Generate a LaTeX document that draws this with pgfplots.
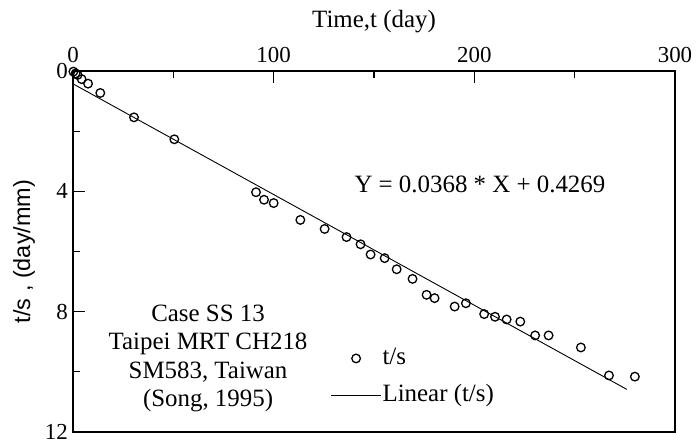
\documentclass[border=0pt]{standalone}
\usepackage{fontspec}
\setmainfont{Liberation Serif}
\newfontfamily\sansf{Liberation Sans}
\usepackage{pgfplots}
\pgfplotsset{compat=1.18}
\pgfplotsset{
 markleg/.style={legend image code/.code={\draw[mark repeat=2,mark phase=2,##1] plot coordinates {(0bp,0bp) (25bp,0bp) (50bp,0bp)};}},
 lineleg/.style={legend image code/.code={\draw[##1] (0bp,0bp) -- (50bp,0bp);}},
}
\begin{document}
\begin{tikzpicture}
\begin{axis}[
 at={(73bp,12bp)}, anchor=south west,
 scale only axis, width=602bp, height=361bp,
 xmin=0, xmax=300, ymin=0, ymax=12, y dir=reverse,
 clip=false,
 xtick={0,100,200,300}, ytick={0,4,8,12},
 minor xtick={50,150,250}, minor ytick={2,6,10},
 xtick pos=upper, xticklabel pos=upper, ytick pos=left, yticklabel pos=left,
 tick align=inside, major tick length=12bp, minor tick length=7bp,
 axis line style={line width=1.3bp},
 every tick/.style={black, line width=1.2bp},
 /pgf/number format/assume math mode=true,
 tick label style={font=\fontsize{23}{23}\selectfont},
 xticklabel style={inner sep=0pt, anchor=base, yshift=9bp},
 yticklabel style={inner sep=0pt, anchor=east, xshift=-5bp},
 xlabel={Time,t (day)},
 xlabel style={font=\fontsize{25}{25}\selectfont, at={(axis description cs:0.5,1)}, anchor=base, yshift=44bp, inner sep=0pt},
 ylabel={t/s , (day/mm)},
 ylabel style={font=\sansf\fontsize{23.5}{23.5}\selectfont, at={(axis description cs:-0.0714,0.5)}, anchor=base, inner sep=0pt},
 legend cell align=left,
 legend style={draw=none, fill=none, at={(axis description cs:0.4280,0.2370)}, anchor=north west,
   inner sep=0pt, outer sep=0pt, row sep=13.5bp, column sep=0pt,
   font=\fontsize{25}{25}\selectfont,
   nodes={inner xsep=1bp, inner ysep=0pt, text height=18bp, text depth=6bp}},
]
\addplot[black, line width=0.9bp, no marks, forget plot] coordinates {(0,0.4269) (276,10.5837)};
\addplot[only marks, mark=o, mark size=4.3bp, black, mark options={line width=1.3bp}, markleg]
 coordinates {
 (0.2,0.02)(1.3,0.08)(2.3,0.13)(4.3,0.27)(7.5,0.42)(13.6,0.73)(30.4,1.54)(50.5,2.27)
 (91.2,4.03)(95.2,4.28)(100.0,4.39)(113.3,4.95)(125.4,5.25)(136.3,5.52)(143.3,5.76)(148.3,6.10)
 (155.3,6.22)(161.3,6.59)(169.2,6.91)(176.2,7.44)(180.2,7.55)(190.2,7.83)(195.8,7.72)
 (204.9,8.08)(210.3,8.17)(216.1,8.26)(222.9,8.33)(230.3,8.79)(237.0,8.79)
 (253.1,9.19)(267.1,10.12)(280.0,10.16)};
\addlegendentry{t/s}
\addlegendimage{black, line width=0.9bp, lineleg}
\addlegendentry{Linear (t/s)}
\node[font=\fontsize{25}{25}\selectfont, inner sep=0pt] at (axis cs:202.8,3.76) {Y = 0.0368 * X + 0.4269};
\node[font=\fontsize{25}{28.5}\selectfont, align=center, inner sep=0pt] at (axis cs:67.3,9.55) {Case SS 13\\Taipei MRT CH218\\SM583, Taiwan\\(Song, 1995)};
\end{axis}
\pgfresetboundingbox
\useasboundingbox (0,0) rectangle (696bp,444bp);
\end{tikzpicture}
\end{document}
